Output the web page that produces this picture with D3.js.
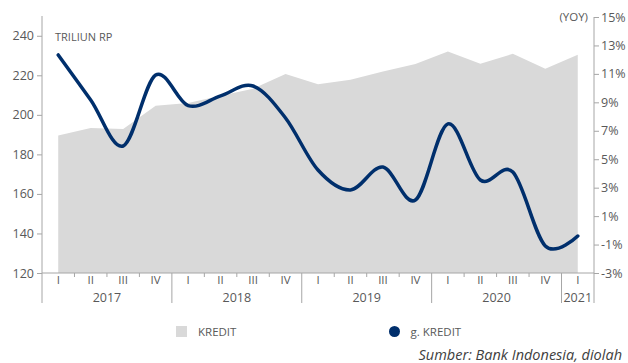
<!DOCTYPE html>
<html>
<head>
<meta charset="utf-8">
<script src="https://cdn.jsdelivr.net/npm/d3@7"></script>
<style>
  html, body { margin: 0; padding: 0; background: #fff; }
  svg text { font-family: "Open Sans", "Noto Sans", sans-serif; }
</style>
</head>
<body>
<div id="chart"></div>
<script>
// ===============================
// DATA
// ===============================
const quarters = ["I", "II", "III", "IV", "I", "II", "III", "IV", "I", "II", "III", "IV", "I", "II", "III", "IV", "I"];
const years = ["2017", "2018", "2019", "2020", "2021"];
const quartersPerYear = [4, 4, 4, 4, 1];
const kredit = [189.5, 193.3, 192.9, 204.6, 206, 209.6, 213.2, 220.6, 215.5, 217.7, 221.9, 225.7, 232, 225.8, 230.9, 223.3, 230.4];
const gKredit = [12.33, 9.17, 5.93, 10.92, 8.77, 9.45, 10.15, 7.9, 4.24, 2.84, 4.45, 2.13, 7.48, 3.54, 4.1, -1.1, -0.4];
const leftTicks = [120, 140, 160, 180, 200, 220, 240];
const rightTicks = [-3, -1, 1, 3, 5, 7, 9, 11, 13, 15];

// ===============================
// DIMENSIONS
// ===============================
const W = 628, H = 363;
const plot = { left: 42, right: 594, top: 16, bottom: 273 };

const svg = d3.select("#chart")
  .append("svg")
  .attr("width", W)
  .attr("height", H);

const idx = quarters.map((d, i) => i);

const x = d3.scaleBand()
  .domain(idx)
  .range([plot.left, plot.right])
  .padding(0);

const cx = (i) => x(i) + x.bandwidth() / 2;

const yL = d3.scaleLinear().domain([120, 250]).range([plot.bottom, plot.top]);
const yR = d3.scaleLinear().domain([-3, 15]).range([plot.bottom, plot.top + 1]);

const axisColor = "#a6a6a6";
const textColor = "#595959";

// ===============================
// AREA (KREDIT)
// ===============================
const area = d3.area()
  .x((d, i) => cx(i))
  .y0(plot.bottom)
  .y1((d) => yL(d));

svg.append("path")
  .datum(kredit)
  .attr("fill", "#d9d9d9")
  .attr("d", area);

// ===============================
// LINE (g. KREDIT)
// ===============================
const line = d3.line()
  .x((d, i) => cx(i))
  .y((d) => yR(d))
  .curve(d3.curveCardinal.tension(0));

svg.append("path")
  .datum(gKredit)
  .attr("fill", "none")
  .attr("stroke", "#002f6c")
  .attr("stroke-width", 3.5)
  .attr("stroke-linecap", "round")
  .attr("d", line);

// ===============================
// LEFT AXIS
// ===============================
svg.append("g")
  .attr("transform", `translate(${plot.left},0)`)
  .call(d3.axisLeft(yL).tickValues(leftTicks).tickSize(5).tickPadding(3))
  .call((g) => g.select(".domain").remove())
  .call((g) => g.selectAll(".tick line").attr("stroke", axisColor))
  .call((g) => g.selectAll(".tick text")
    .attr("fill", textColor).attr("font-size", "12.5px")
    .style("font-family", "'Open Sans', sans-serif"));

svg.append("line")
  .attr("x1", plot.left).attr("x2", plot.left)
  .attr("y1", plot.top).attr("y2", 303)
  .attr("stroke", axisColor);

// ===============================
// RIGHT AXIS
// ===============================
svg.append("g")
  .attr("transform", `translate(${plot.right},0)`)
  .call(d3.axisRight(yR).tickValues(rightTicks).tickSize(5).tickPadding(2)
    .tickFormat((d) => `${d}%`))
  .call((g) => g.select(".domain").remove())
  .call((g) => g.selectAll(".tick line").attr("stroke", axisColor))
  .call((g) => g.selectAll(".tick text")
    .attr("fill", textColor).attr("font-size", "12.5px")
    .style("font-family", "'Open Sans', sans-serif"));

svg.append("line")
  .attr("x1", plot.right).attr("x2", plot.right)
  .attr("y1", plot.top + 1).attr("y2", 303)
  .attr("stroke", axisColor);

// ===============================
// BOTTOM AXIS (QUARTERS + YEARS)
// ===============================
svg.append("line")
  .attr("x1", plot.left).attr("x2", plot.right)
  .attr("y1", plot.bottom).attr("y2", plot.bottom)
  .attr("stroke", axisColor);

svg.append("g")
  .attr("transform", `translate(0,${plot.bottom})`)
  .call(d3.axisBottom(x).tickSize(0).tickPadding(3).tickFormat((i) => quarters[i]))
  .call((g) => g.select(".domain").remove())
  .call((g) => g.selectAll(".tick text")
    .attr("fill", textColor).attr("font-size", "11.5px")
    .style("font-family", "'Open Sans', sans-serif"));

// separators
let start = 0;
const yearStarts = [];
quartersPerYear.forEach((n) => { yearStarts.push(start); start += n; });

idx.slice(1).forEach((i) => {
  const isYear = yearStarts.includes(i);
  svg.append("line")
    .attr("x1", x(i)).attr("x2", x(i))
    .attr("y1", plot.bottom)
    .attr("y2", isYear ? 303 : plot.bottom + 4)
    .attr("stroke", axisColor);
});

years.forEach((yr, k) => {
  const s = yearStarts[k];
  const e = s + quartersPerYear[k];
  svg.append("text")
    .attr("x", (x(s) + (e < quarters.length ? x(e) : plot.right)) / 2)
    .attr("y", 302)
    .attr("text-anchor", "middle")
    .attr("fill", textColor)
    .attr("font-size", "12.5px")
    .text(yr);
});

// ===============================
// UNIT LABELS
// ===============================
svg.append("text")
  .attr("x", 55).attr("y", 41)
  .attr("fill", textColor)
  .attr("font-size", "11px")
  .text("TRILIUN RP");

svg.append("text")
  .attr("x", 588).attr("y", 21)
  .attr("text-anchor", "end")
  .attr("fill", textColor)
  .attr("font-size", "11.5px")
  .text("(YOY)");

// ===============================
// LEGEND
// ===============================
svg.append("rect")
  .attr("x", 176).attr("y", 326)
  .attr("width", 11).attr("height", 11)
  .attr("fill", "#d9d9d9");

svg.append("text")
  .attr("x", 198).attr("y", 335.5)
  .attr("fill", textColor)
  .attr("font-size", "11.5px")
  .text("KREDIT");

svg.append("circle")
  .attr("cx", 394.5).attr("cy", 331.5)
  .attr("r", 5.5)
  .attr("fill", "#002f6c");

svg.append("text")
  .attr("x", 410.5).attr("y", 335.5)
  .attr("fill", textColor)
  .attr("font-size", "11.5px")
  .text("g. KREDIT");

// ===============================
// SOURCE
// ===============================
svg.append("text")
  .attr("x", 622).attr("y", 360)
  .attr("text-anchor", "end")
  .attr("fill", "#404040")
  .attr("font-size", "14.5px")
  .attr("font-style", "italic")
  .text("Sumber: Bank Indonesia, diolah");
</script>
</body>
</html>
